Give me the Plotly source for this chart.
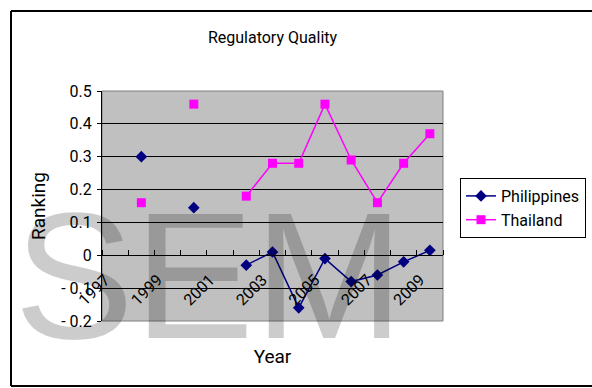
import plotly.graph_objects as go

years = [1997, 1998, 1999, 2000, 2001, 2002, 2003, 2004, 2005, 2006, 2007, 2008, 2009]
philippines = [None, 0.30, None, 0.145, None, -0.03, 0.01, -0.16, -0.01, -0.08, -0.06, -0.02, 0.015]
thailand = [None, 0.16, None, 0.46, None, 0.18, 0.28, 0.28, 0.46, 0.29, 0.16, 0.28, 0.37]
x_tick_years = [1997, 1999, 2001, 2003, 2005, 2007, 2009]
y_tick_vals = [-0.2, -0.1, 0.0, 0.1, 0.2, 0.3, 0.4, 0.5]
y_tick_text = ["- 0.2", "- 0.1", "0", "0.1", "0.2", "0.3", "0.4", "0.5"]

FONT = "Roboto, Liberation Sans, sans-serif"
FS = 16

fig = go.Figure()
fig.add_trace(go.Scatter(
    x=years, y=philippines, name="Philippines", mode="lines+markers",
    line=dict(color="#000080", width=1.5),
    marker=dict(symbol="diamond", size=9, color="#000080"),
    connectgaps=False,
))
fig.add_trace(go.Scatter(
    x=years, y=thailand, name="Thailand", mode="lines+markers",
    line=dict(color="#FF00FF", width=1.5),
    marker=dict(symbol="square", size=9, color="#FF00FF"),
    connectgaps=False,
))

L, R, T, B = 102, 149, 91, 67
W, H = 592, 388
pw, ph = W - L - R, H - T - B

def px_x(p):
    return (p - L) / pw

def px_y(p):
    return (H - B - p) / ph

boundaries = [y - 0.5 for y in years] + [years[-1] + 0.5]

fig.update_layout(
    width=W, height=H,
    margin=dict(l=L, r=R, t=T, b=B, autoexpand=False),
    paper_bgcolor="white",
    plot_bgcolor="#C0C0C0",
    font=dict(family=FONT, size=FS, color="black"),
    title=dict(text="Regulatory Quality", x=0.5, xref="paper", xanchor="center",
               y=1 - 37 / H, yanchor="middle", font=dict(size=FS)),
    showlegend=True,
    legend=dict(x=px_x(460), y=px_y(178), xanchor="left", yanchor="top",
                bordercolor="black", borderwidth=1, bgcolor="white",
                font=dict(size=FS), tracegroupgap=0),
    xaxis=dict(
        range=[years[0] - 0.5, years[-1] + 0.5],
        tickmode="array", tickvals=x_tick_years,
        ticktext=[str(v) for v in x_tick_years],
        tickangle=-45, ticks="", showgrid=False, zeroline=False,
        showline=True, linecolor="black", linewidth=1,
        anchor="free", position=2 / 7,
        ticklabelstandoff=8, ticklabelshift=-10, automargin=False,
        minor=dict(tickmode="array", tickvals=boundaries, ticks="inside",
                   ticklen=5, tickcolor="black", tickwidth=1, showgrid=False),
        title=dict(text="Year", standoff=41),
    ),
    yaxis=dict(
        range=[-0.2, 0.5], tickmode="array", tickvals=y_tick_vals, ticktext=y_tick_text,
        showgrid=True, gridcolor="black", gridwidth=1, zeroline=False,
        showline=True, linecolor="black", linewidth=1,
        ticks="outside", ticklen=4, tickcolor="black", automargin=False,
        ticklabelstandoff=2,
        title=dict(text="Ranking", standoff=10),
    ),
)

# plot-area border
fig.add_shape(type="rect", xref="paper", yref="paper", x0=0, x1=1, y0=0, y1=1,
              line=dict(color="#808080", width=1), layer="below")
# chart outer border (runs off the right edge, so only top / left / bottom)
bx0, bx1, by0, by1 = px_x(11), px_x(700), px_y(386), px_y(11)
for (a, b, c, d) in [(bx0, by1, bx1, by1), (bx0, by0, bx0, by1), (bx0, by0, bx1, by0)]:
    fig.add_shape(type="line", xref="paper", yref="paper", x0=a, y0=b, x1=c, y1=d,
                  line=dict(color="black", width=2), layer="above")

# watermark
fig.add_annotation(text="SEM", xref="paper", yref="paper",
                   x=px_x(209), y=px_y(275), xanchor="center", yanchor="middle",
                   showarrow=False,
                   font=dict(family="Liberation Sans, Arial, sans-serif", size=180,
                             color="rgba(0,0,0,0.2)"))

fig.write_html("out.html", config={"displayModeBar": False},
               post_script="document.body.style.margin='0';document.body.style.padding='0';"
                           "document.documentElement.style.overflow='hidden';"
                           "document.body.style.overflow='hidden';")
